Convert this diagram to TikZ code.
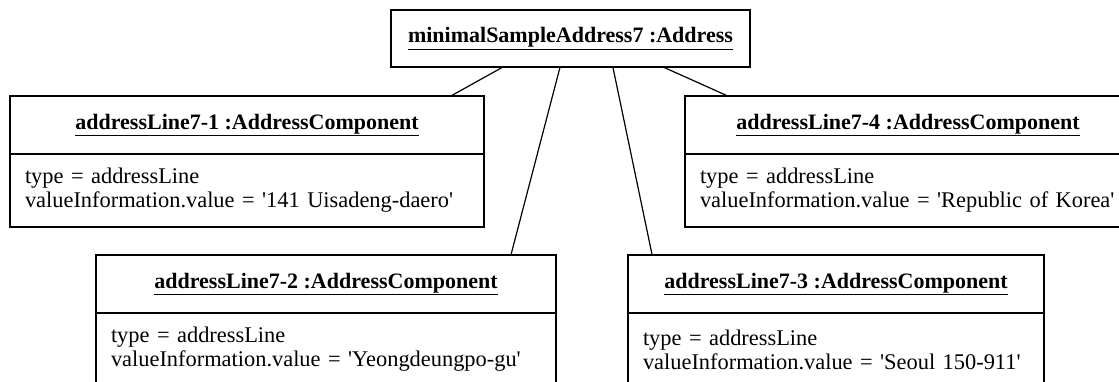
\documentclass[tikz,border=0pt]{standalone}
\usepackage{fontspec}
\setmainfont{Liberation Serif}
\usetikzlibrary{positioning, calc}

\begin{document}
\begin{tikzpicture}[
    x=1pt, y=-1pt,
    head/.style={rectangle, draw, line width=1.8pt, outer sep=0pt, inner sep=0pt, anchor=north west, minimum height=58pt, font=\fontsize{22}{26}\selectfont\bfseries},
    body/.style={rectangle, draw, line width=1.8pt, outer sep=0pt, inner xsep=15pt, inner ysep=0pt, minimum height=73pt, align=left, font=\fontsize{22.4}{24}\selectfont},
    link/.style={line width=1.2pt}
]
    \useasboundingbox (0,0) rectangle (1119,382);
    \clip (0,0) rectangle (1119,382);

    \node[head, minimum width=359pt, minimum height=57pt] (address) at (391,10) {\underline{minimalSampleAddress7 :Address}};

    \node[head, minimum width=474pt] (line1) at (10,96) {\underline{addressLine7-1 :AddressComponent}};
    \node[body, below=0pt of line1, text width=444pt] (line1attr) {type = addressLine\\valueInformation.value = \textquotesingle141 Uisadeng-daero\textquotesingle};

    \node[head, minimum width=470pt] (line4) at (685,96) {\hspace*{-12pt}\underline{addressLine7-4 :AddressComponent}\hspace*{12pt}};
    \node[body, below=0pt of line4, text width=440pt] (line4attr) {type = addressLine\\valueInformation.value = \textquotesingle Republic of Korea\textquotesingle};

    \node[head, minimum width=460pt] (line2) at (96,255) {\underline{addressLine7-2 :AddressComponent}};
    \node[body, below=0pt of line2, text width=430pt] (line2attr) {type = addressLine\\valueInformation.value = \textquotesingle Yeongdeungpo-gu\textquotesingle};

    \node[head, minimum width=416pt] (line3) at (628,255) {\underline{addressLine7-3 :AddressComponent}};
    \node[body, below=0pt of line3, text width=386pt] (line3attr) {type = addressLine\\valueInformation.value = \textquotesingle Seoul 150-911\textquotesingle};

    \draw[link] ($(address.south west)!0.312!(address.south east)$) -- ($(line1.north west)!0.930!(line1.north east)$);
    \draw[link] ($(address.south west)!0.471!(address.south east)$) -- ($(line2.north west)!0.902!(line2.north east)$);
    \draw[link] ($(address.south west)!0.618!(address.south east)$) -- ($(line3.north west)!0.058!(line3.north east)$);
    \draw[link] ($(address.south west)!0.758!(address.south east)$) -- ($(line4.north west)!0.091!(line4.north east)$);
\end{tikzpicture}
\end{document}
